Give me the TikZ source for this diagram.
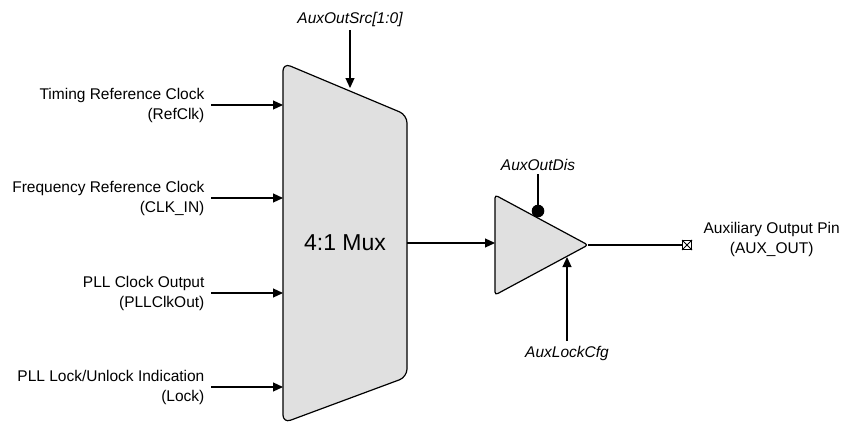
\documentclass[tikz,border=0pt]{standalone}
\usepackage{fontspec}
\setmainfont{Liberation Sans}
\usetikzlibrary{arrows.meta}
\begin{document}
\begin{tikzpicture}[x=1pt,y=-1pt,line width=1.2pt,
  lbl/.style={inner sep=0pt,font=\fontsize{15.5}{20}\selectfont,align=right},
  sig/.style={inner sep=0pt,font=\fontsize{15.5}{20}\selectfont\itshape},
  >={Triangle[length=10pt,width=9pt]}]
  \useasboundingbox (0,0) rectangle (843,423);
  \filldraw[fill=black!12,rounded corners=8pt] (283,63)--(407,115)--(407,377)--(283,423)--cycle;
  \node[inner sep=0pt,font=\fontsize{23}{23}\selectfont] (mux) at (345,243) {4:1 Mux};
  \filldraw[fill=black!12,rounded corners=3pt] (495,195)--(588,245)--(495,295)--cycle;
  \coordinate (tip) at (588,245);
  % inputs
  \node[lbl,anchor=east] (refclk) at (205,105) {Timing Reference Clock\\(RefClk)};
  \node[lbl,anchor=east] (clkin) at (205,198) {Frequency Reference Clock\\(CLK\_IN)};
  \node[lbl,anchor=east] (pllout) at (205,293) {PLL Clock Output\\(PLLClkOut)};
  \node[lbl,anchor=east] (lock) at (205,387) {PLL Lock/Unlock Indication\\(Lock)};
  \foreach \n in {refclk,clkin,pllout,lock}
    \draw[->] ([xshift=6pt]\n.east)--([xshift=78pt]\n.east);
  % select
  \node[sig] (src) at (350,19) {AuxOutSrc[1:0]};
  \coordinate (srcin) at (350,88);
  \draw[->] (src.south)+(0,3)--(srcin);
  % mux out
  \coordinate (muxout) at (407,243);
  \coordinate (bufin) at (495,243);
  \draw[->] (muxout)--(bufin);
  % enable / cfg
  \node[sig] (dis) at (538,165) {AuxOutDis};
  \fill (538,211) circle [radius=6.3pt] coordinate (disdot);
  \draw (dis.south)+(0,3)--(disdot);
  \node[sig] (cfg) at (567,353) {AuxLockCfg};
  \coordinate (cfgin) at (567,257);
  \draw[->] (cfg.north)+(0,-4)--(cfgin);
  % output pin
  \node[draw,line width=1pt,minimum size=9pt,inner sep=0pt] (pin) at (687,245) {};
  \draw[line width=0.8pt] (pin.north west)--(pin.south east) (pin.south west)--(pin.north east);
  \draw (tip)--(pin.west);
  \node[lbl,align=center,anchor=west] (auxout) at (703,239) {Auxiliary Output Pin\\(AUX\_OUT)};
\end{tikzpicture}
\end{document}
